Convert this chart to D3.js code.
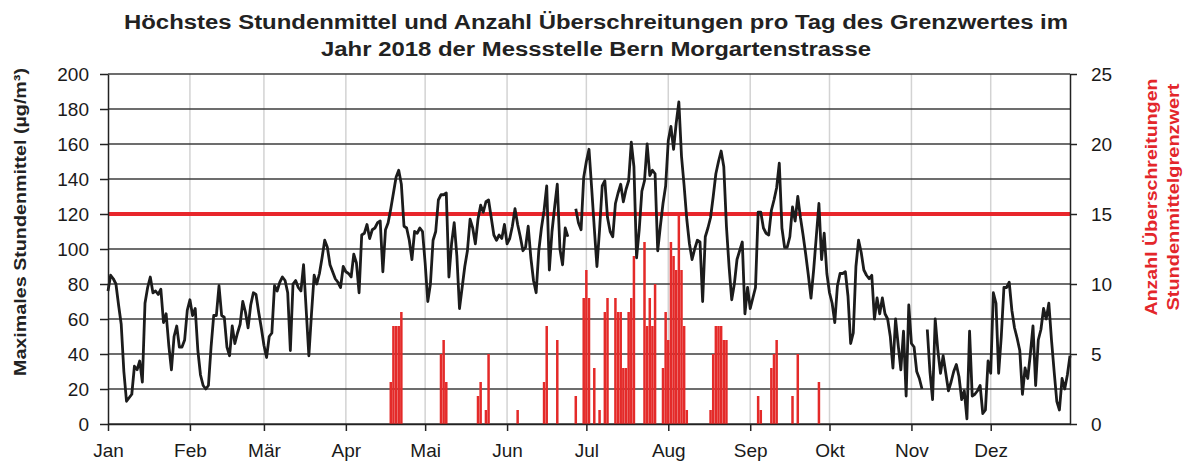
<!DOCTYPE html>
<html><head><meta charset="utf-8">
<script src="https://cdn.jsdelivr.net/npm/d3@7"></script>
<style>
body{margin:0;background:#fff;}
svg{display:block;font-family:"Liberation Sans",Arial,sans-serif;}
</style>
</head><body>
<svg id="chart" width="1190" height="466"></svg>
<script>
// ---- data: highest hourly mean per day (µg/m³), one array per month ----
const jan=[76,85,83,80,68,57,30,13,15,17,33,31,36,24,69,78,84,75,76,74,77,58,63,45,31,50,56,44,44,48,65];
const feb=[71,62,66,42,28,22,20,22,44,62,62,79,62,61,44,39,56,46,52,57,70,64,55,68,75,74,64,55];
const mar=[45,38,50,52,79,76,81,84,82,75,42,80,82,78,76,91,65,39,63,85,80,86,95,105,101,91,87,83,81,78,90];
const apr=[87,86,84,97,92,75,108,109,114,106,111,112,115,116,87,111,115,123,132,141,145,137,113,112,105,94,110,109,112,110];
const mai=[92,70,80,105,110,128,131,131,132,84,103,115,96,66,78,90,99,117,112,103,117,125,121,127,128,118,108,105,108,106,114];
const jun=[103,106,113,123,114,107,99,101,113,95,82,75,99,112,122,136,88,110,124,137,100,91,112,107,null,null,123,115,111,141];
const jul=[150,157,135,112,90,111,136,139,118,110,107,126,132,137,127,134,139,161,147,95,111,133,139,160,142,145,143,99,113,126,136];
const aug=[162,170,157,172,184,153,136,117,103,94,100,105,104,70,107,112,118,130,143,150,156,147,113,90,71,80,94,99,104,63,78];
const sep=[66,72,78,121,121,112,109,108,122,128,135,149,112,101,101,107,124,116,130,118,108,97,85,72,88,107,126,94,109,86];
const okt=[75,69,58,79,86,86,87,73,46,52,90,105,98,88,85,83,85,60,72,63,72,63,60,50,32,60,45,31,53,16,68];
const nov=[46,44,30,26,20,null,54,30,14,60,42,29,39,29,19,24,30,34,27,14,19,3,53,16,17,19,22,6,8,36];
const dez=[29,75,69,29,50,78,78,81,65,55,49,42,17,32,26,40,56,22,48,54,66,60,69,48,30,13,8,26,20,28,39];
const dailyMax=[].concat(jan,feb,mar,apr,mai,jun,jul,aug,sep,okt,nov,dez);

// ---- data: number of exceedances per day (day index from 1 Jan) ----
const exceedDays  =[107,108,109,110,111,126,127,128,140,141,143,144,155,165,166,170,177,180,181,182,184,186,188,189,192,193,194,195,196,197,198,199,203,204,205,206,207,210,211,212,213,214,215,216,217,218,219,228,229,230,231,232,233,234,246,247,251,252,253,259,261,269];
const exceedCounts=[3,7,7,7,8,5,6,3,2,3,1,5,1,3,7,6,2,9,11,9,4,1,8,9,9,8,8,4,4,8,9,12,13,7,9,7,10,4,8,6,13,12,11,15,11,7,1,1,5,7,7,7,6,6,2,1,4,5,6,2,5,3];

const limitValue=120;
const monthLabels=["Jan","Feb","Mär","Apr","Mai","Jun","Jul","Aug","Sep","Okt","Nov","Dez"];
const leftTicks=[0,20,40,60,80,100,120,140,160,180,200];
const rightTicks=[0,5,10,15,20,25];
const titleLines=["Höchstes Stundenmittel  und Anzahl Überschreitungen pro Tag des Grenzwertes im","Jahr 2018 der Messstelle Bern Morgartenstrasse"];
const leftTitle="Maximales Stundenmittel (µg/m³)";
const rightTitle=["Anzahl Überschreitungen","Stundenmittelgrenzwert"];

// ---- layout ----
const L=108,R=1070,T=74,B=424;
const svg=d3.select("#chart");
const start=new Date(Date.UTC(2018,0,1));
const end=new Date(Date.UTC(2018,11,31));
const day=i=>d3.utcDay.offset(start,i);
const x=d3.scaleUtc().domain([start,end]).range([L,R]);
const yL=d3.scaleLinear().domain([0,200]).range([B,T]);
const yR=d3.scaleLinear().domain([0,25]).range([B,T]);
const monthStarts=d3.utcMonth.range(start,end);

// vertical grid (months)
svg.append("g").selectAll("line").data(monthStarts.slice(1)).join("line")
  .attr("x1",d=>x(d)).attr("x2",d=>x(d)).attr("y1",T).attr("y2",B)
  .attr("stroke","#d3d3d3").attr("stroke-width",1.5);
// horizontal grid
svg.append("g").selectAll("line").data(leftTicks).join("line")
  .attr("x1",L).attr("x2",R).attr("y1",d=>yL(d)).attr("y2",d=>yL(d))
  .attr("stroke","#3c3c3c").attr("stroke-width",1.3);

// bars
svg.append("g").selectAll("rect").data(exceedDays.map((d,i)=>({d,c:exceedCounts[i]}))).join("rect")
  .attr("x",e=>x(day(e.d))-1.25).attr("width",2.5)
  .attr("y",e=>yR(e.c)).attr("height",e=>B-yR(e.c))
  .attr("fill","#e42a29");

// limit line
svg.append("line").attr("x1",L).attr("x2",R).attr("y1",yL(limitValue)).attr("y2",yL(limitValue))
  .attr("stroke","#e8262b").attr("stroke-width",4);

// daily max line
const line=d3.line().defined(d=>d!=null).x((d,i)=>x(day(i))).y(d=>yL(d));
svg.append("path").datum(dailyMax).attr("d",line)
  .attr("fill","none").attr("stroke","#1c1c1c").attr("stroke-width",2.8)
  .attr("stroke-linejoin","round");

// axes
const styleAxis=g=>{
  g.selectAll("path").attr("stroke","#222").attr("stroke-width",1.5);
  g.selectAll("line").attr("stroke","#222").attr("stroke-width",1.5);
  g.selectAll("text").attr("fill","#1a1a1a").style("font-size","19px").style("font-family","'Liberation Sans',Arial,sans-serif");
};
svg.append("g").attr("transform",`translate(${L},0)`)
  .call(d3.axisLeft(yL).tickValues(leftTicks).tickSize(8).tickPadding(11).tickSizeOuter(0))
  .call(styleAxis);
svg.append("g").attr("transform",`translate(${R},0)`)
  .call(d3.axisRight(yR).tickValues(rightTicks).tickSize(7).tickPadding(14).tickSizeOuter(0))
  .call(styleAxis);
svg.append("g").attr("transform",`translate(0,${B})`)
  .call(d3.axisBottom(x).tickValues(monthStarts).tickSize(7).tickPadding(13).tickSizeOuter(0)
    .tickFormat(d=>monthLabels[d.getUTCMonth()]))
  .call(styleAxis);

// title
svg.append("g").selectAll("text").data(titleLines).join("text")
  .attr("x",596).attr("y",(d,i)=>29+i*27).attr("text-anchor","middle")
  .attr("font-weight","bold").attr("font-size",20).attr("fill","#222")
  .attr("textLength",(d,i)=>i===0?944:550).attr("lengthAdjust","spacingAndGlyphs")
  .text(d=>d);

// left axis title
svg.append("text").attr("transform","translate(20,222) rotate(-90)")
  .attr("text-anchor","middle").attr("dominant-baseline","central")
  .attr("font-weight","bold").attr("font-size",17).attr("fill","#222")
  .attr("textLength",308).attr("lengthAdjust","spacingAndGlyphs")
  .text(leftTitle);

// right axis title
svg.append("g").selectAll("text").data(rightTitle).join("text")
  .attr("transform",(d,i)=>`translate(${1151+i*22},197) rotate(-90)`)
  .attr("text-anchor","middle").attr("dominant-baseline","central")
  .attr("font-weight","bold").attr("font-size",17).attr("fill","#e3262b")
  .attr("textLength",(d,i)=>i===0?237:227).attr("lengthAdjust","spacingAndGlyphs")
  .text(d=>d);
</script>
</body></html>
